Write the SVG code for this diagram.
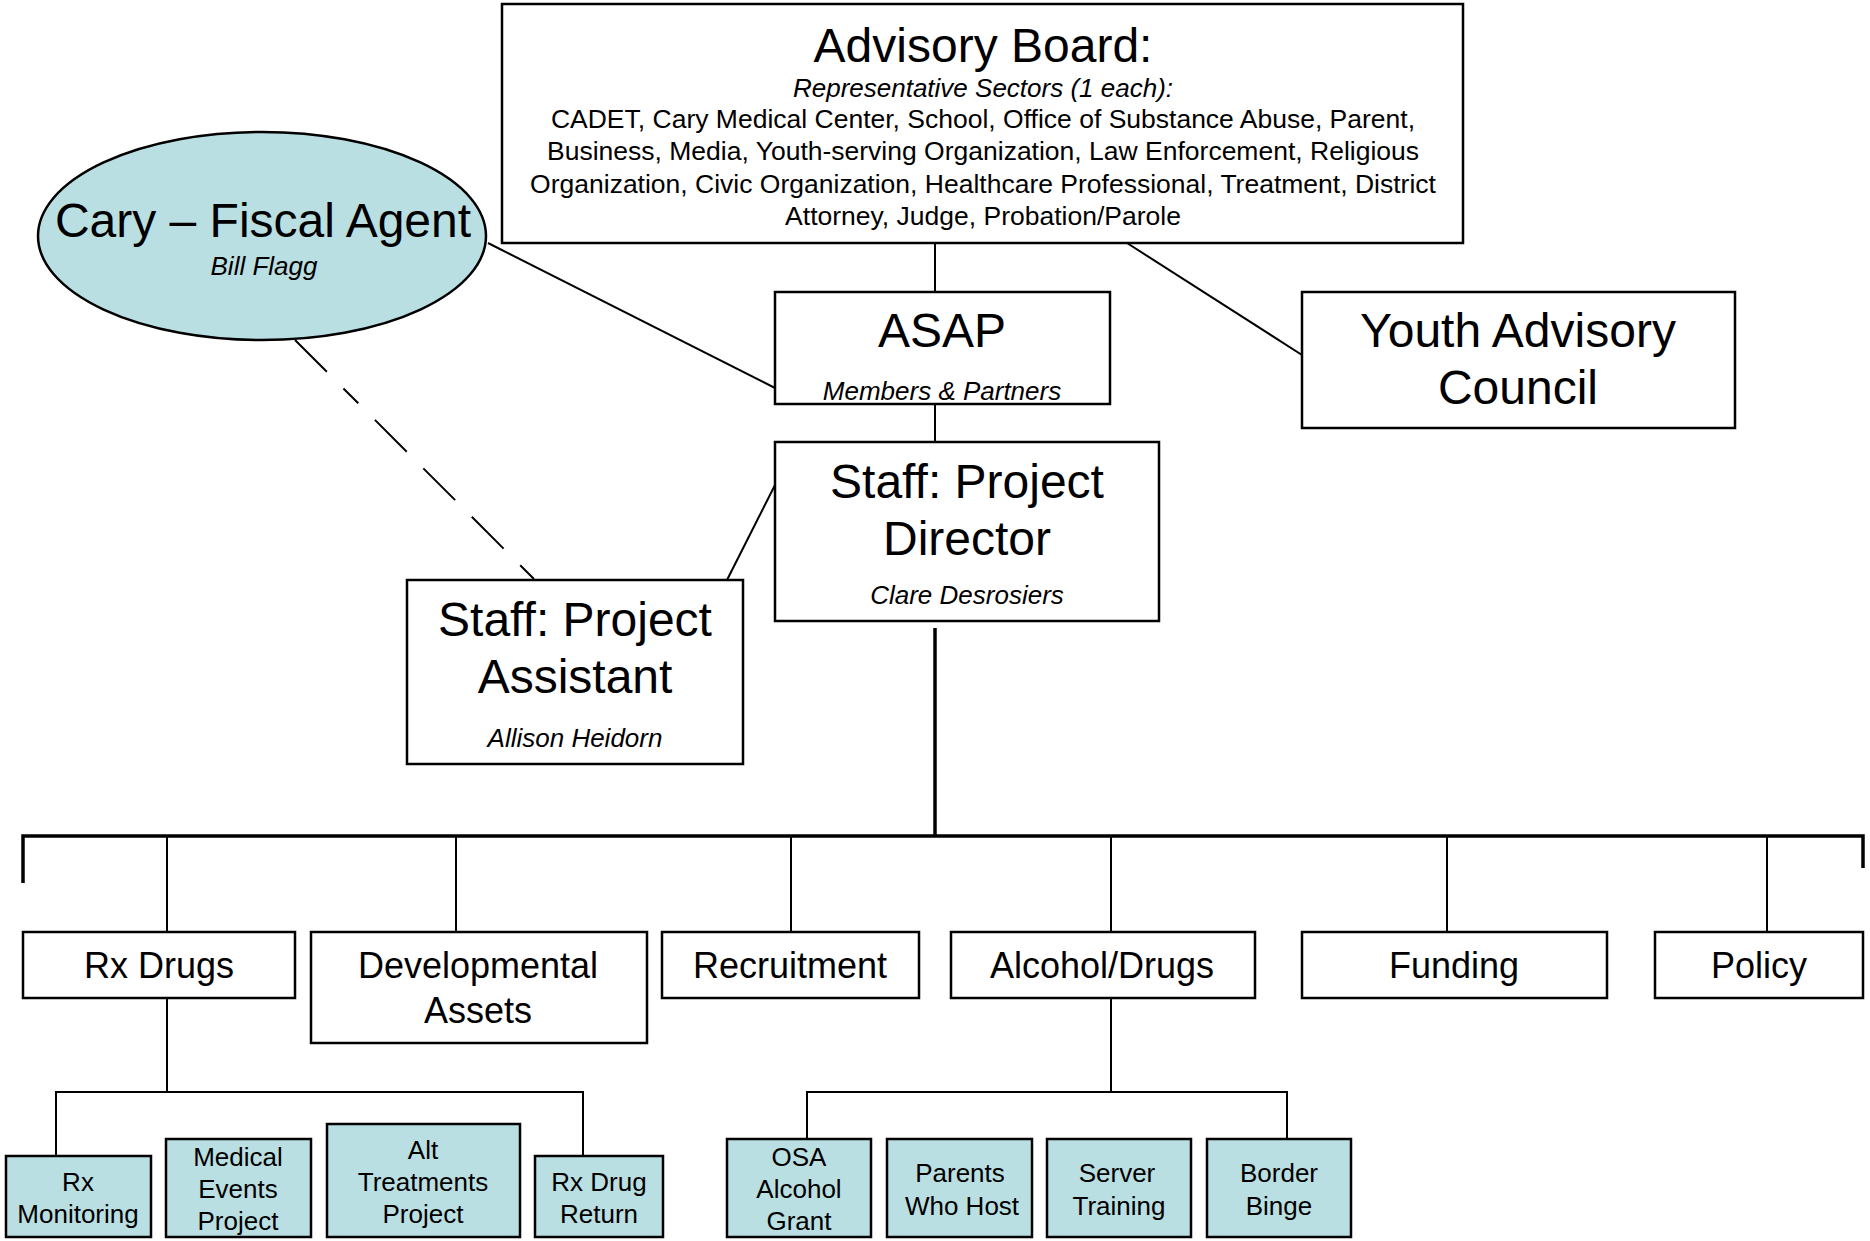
<svg xmlns="http://www.w3.org/2000/svg" width="1870" height="1241" viewBox="0 0 1870 1241">
<style>
.box{fill:#ffffff;stroke:#000;stroke-width:2.5}
.blue{fill:#B9DFE2;stroke:#000;stroke-width:2.5}
.ln{stroke:#000;stroke-width:2;fill:none}
.bus{stroke:#000;stroke-width:3.5;fill:none}
text{font-family:"Liberation Sans",Arial,sans-serif;fill:#000;text-anchor:middle}
.big{font-size:48px}
.mid{font-size:36px}
.sm{font-size:26px}
.it{font-style:italic;font-size:26px}
</style>
<rect width="1870" height="1241" fill="#fff"/>
<g id="connectors">
<line class="ln" x1="935" y1="243" x2="935" y2="292"/>
<line class="ln" x1="935" y1="404" x2="935" y2="442"/>
<line class="ln" x1="488" y1="243" x2="775" y2="388"/>
<line class="ln" x1="1127" y1="243" x2="1302" y2="355"/>
<line class="ln" x1="295" y1="340" x2="534" y2="579" stroke-dasharray="45 23.5 21 23.5 45 23.5 45 23.5 45 23.5 21 100"/>
<line class="ln" x1="775" y1="485" x2="727" y2="580"/>
<line class="bus" x1="935" y1="628" x2="935" y2="836"/>
<polyline class="bus" points="23,883 23,836 1863,836 1863,868"/>
<line class="ln" x1="167" y1="836" x2="167" y2="932"/>
<line class="ln" x1="456" y1="836" x2="456" y2="932"/>
<line class="ln" x1="791" y1="836" x2="791" y2="932"/>
<line class="ln" x1="1111" y1="836" x2="1111" y2="932"/>
<line class="ln" x1="1447" y1="836" x2="1447" y2="932"/>
<line class="ln" x1="1767" y1="836" x2="1767" y2="932"/>
<line class="ln" x1="167" y1="998" x2="167" y2="1092"/>
<polyline class="ln" points="56,1156 56,1092 583,1092 583,1156"/>
<line class="ln" x1="1111" y1="998" x2="1111" y2="1092"/>
<polyline class="ln" points="807,1139 807,1092 1287,1092 1287,1139"/>
</g>
<g id="advisory-board">
<rect class="box" x="502" y="4" width="961" height="239"/>
<text class="big" x="983" y="62">Advisory Board:</text>
<text class="it" x="983" y="97">Representative Sectors (1 each):</text>
<text class="sm" x="983" y="128" style="font-size:26.5px">CADET, Cary Medical Center, School, Office of Substance Abuse, Parent,</text>
<text class="sm" x="983" y="160" style="font-size:26.5px">Business, Media, Youth-serving Organization, Law Enforcement, Religious</text>
<text class="sm" x="983" y="193" style="font-size:26.5px">Organization, Civic Organization, Healthcare Professional, Treatment, District</text>
<text class="sm" x="983" y="225" style="font-size:26.5px">Attorney, Judge, Probation/Parole</text>
</g>
<g id="fiscal-agent">
<ellipse class="blue" cx="262" cy="236" rx="224" ry="104"/>
<text class="big" x="263" y="237">Cary – Fiscal Agent</text>
<text class="it" x="264" y="275">Bill Flagg</text>
</g>
<g id="asap">
<rect class="box" x="775" y="292" width="335" height="112"/>
<text class="big" x="942" y="347">ASAP</text>
<text class="it" x="942" y="400">Members &amp; Partners</text>
</g>
<g id="youth-advisory-council">
<rect class="box" x="1302" y="292" width="433" height="136"/>
<text class="big" x="1518" y="347">Youth Advisory</text>
<text class="big" x="1518" y="404">Council</text>
</g>
<g id="project-director">
<rect class="box" x="775" y="442" width="384" height="179"/>
<text class="big" x="967" y="498">Staff: Project</text>
<text class="big" x="967" y="555">Director</text>
<text class="it" x="967" y="604">Clare Desrosiers</text>
</g>
<g id="project-assistant">
<rect class="box" x="407" y="580" width="336" height="184"/>
<text class="big" x="575" y="636">Staff: Project</text>
<text class="big" x="575" y="693">Assistant</text>
<text class="it" x="575" y="747">Allison Heidorn</text>
</g>
<g id="rx-drugs">
<rect class="box" x="23" y="932" width="272" height="66"/>
<text class="mid" x="159" y="978">Rx Drugs</text>
</g>
<g id="developmental-assets">
<rect class="box" x="311" y="932" width="336" height="111"/>
<text class="mid" x="478" y="978">Developmental</text>
<text class="mid" x="478" y="1023">Assets</text>
</g>
<g id="recruitment">
<rect class="box" x="662" y="932" width="257" height="66"/>
<text class="mid" x="790" y="978">Recruitment</text>
</g>
<g id="alcohol-drugs">
<rect class="box" x="951" y="932" width="304" height="66"/>
<text class="mid" x="1102" y="978">Alcohol/Drugs</text>
</g>
<g id="funding">
<rect class="box" x="1302" y="932" width="305" height="66"/>
<text class="mid" x="1454" y="978">Funding</text>
</g>
<g id="policy">
<rect class="box" x="1655" y="932" width="208" height="66"/>
<text class="mid" x="1759" y="978">Policy</text>
</g>
<g id="rx-monitoring">
<rect class="blue" x="6" y="1156" width="145" height="81"/>
<text class="sm" x="78" y="1191">Rx</text>
<text class="sm" x="78" y="1223">Monitoring</text>
</g>
<g id="medical-events-project">
<rect class="blue" x="166" y="1139" width="145" height="98"/>
<text class="sm" x="238" y="1166">Medical</text>
<text class="sm" x="238" y="1198">Events</text>
<text class="sm" x="238" y="1230">Project</text>
</g>
<g id="alt-treatments-project">
<rect class="blue" x="327" y="1124" width="193" height="113"/>
<text class="sm" x="423" y="1159">Alt</text>
<text class="sm" x="423" y="1191">Treatments</text>
<text class="sm" x="423" y="1223">Project</text>
</g>
<g id="rx-drug-return">
<rect class="blue" x="535" y="1156" width="128" height="81"/>
<text class="sm" x="599" y="1191">Rx Drug</text>
<text class="sm" x="599" y="1223">Return</text>
</g>
<g id="osa-alcohol-grant">
<rect class="blue" x="727" y="1139" width="144" height="98"/>
<text class="sm" x="799" y="1166">OSA</text>
<text class="sm" x="799" y="1198">Alcohol</text>
<text class="sm" x="799" y="1230">Grant</text>
</g>
<g id="parents-who-host">
<rect class="blue" x="887" y="1139" width="145" height="98"/>
<text class="sm" x="960" y="1182">Parents</text>
<text class="sm" x="962" y="1215">Who Host</text>
</g>
<g id="server-training">
<rect class="blue" x="1047" y="1139" width="144" height="98"/>
<text class="sm" x="1117" y="1182">Server</text>
<text class="sm" x="1119" y="1215">Training</text>
</g>
<g id="border-binge">
<rect class="blue" x="1207" y="1139" width="144" height="98"/>
<text class="sm" x="1279" y="1182">Border</text>
<text class="sm" x="1279" y="1215">Binge</text>
</g>
</svg>
